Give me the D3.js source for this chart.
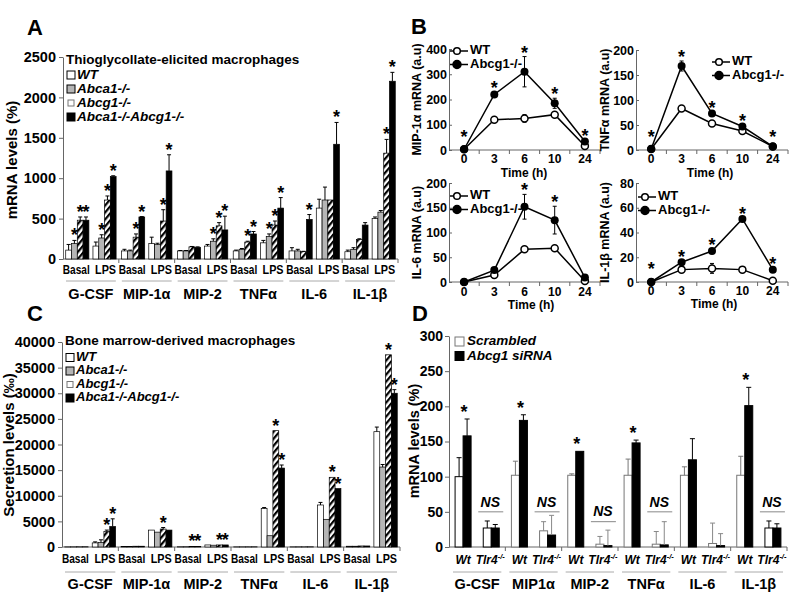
<!DOCTYPE html>
<html><head><meta charset="utf-8">
<script src="https://cdn.jsdelivr.net/npm/d3@7"></script>
<style>body{margin:0;background:#fff}svg{font-family:"Liberation Sans",Arial,sans-serif;font-weight:bold}</style>
</head><body><svg id="c" width="800" height="608"></svg>
<script>
// ---------------- DATA ----------------
const genotypes = ["WT","Abca1-/-","Abcg1-/-","Abca1-/-Abcg1-/-"];
const cytokines = ["G-CSF","MIP-1α","MIP-2","TNFα","IL-6","IL-1β"];
const conditions = ["Basal","LPS"];

// Panel A (rows: cytokines, cols: genotypes)
const aTicks = [0,500,1000,1500,2000,2500];
const aBasal = [[110,190,480,480],[100,100,270,520],[100,100,150,145],[100,120,210,310],[100,100,90,490],[90,120,240,420]];
const aBasalErr = [[70,40,40,40],[20,10,40,5],[5,5,5,5],[10,10,10,30],[40,20,5,60],[20,20,10,30]];
const aBasalStar = [[0,1,1,1],[0,0,1,1],[0,0,0,0],[0,0,1,1],[0,0,0,1],[0,0,0,0]];
const aLPS = [[160,260,730,1020],[190,180,470,1090],[160,220,410,360],[200,280,420,630],[630,730,730,1420],[500,580,1310,2200]];
const aLPSErr = [[50,40,50,10],[80,15,140,200],[20,30,40,170],[30,30,50,130],[110,160,0,270],[20,20,170,110]];
const aLPSStar = [[0,1,1,1],[0,0,1,1],[0,1,1,1],[0,1,1,1],[0,0,0,1],[0,0,1,1]];

// Panel B (time courses)
const times = ["0","3","6","10","24"];
const b1Ticks = [0,100,200,300,400];
const b1WT = [3,120,125,140,16], b1WTErr = [0,8,15,10,4];
const b1KO = [3,220,310,185,34], b1KOErr = [0,8,60,20,5];
const b1Star = [1,1,1,1,1];
const b2Ticks = [0,50,100,150,200];
const b2WT = [2,83,53,38,7], b2WTErr = [0,3,4,3,1];
const b2KO = [2,168,73,47,7], b2KOErr = [0,10,3,3,1];
const b2Star = [1,1,1,1,1];
const b3Ticks = [0,50,100,150,200];
const b3WT = [0,14,66,68,2], b3WTErr = [0,2,3,3,1];
const b3KO = [0,24,152,125,9], b3KOErr = [0,2,25,28,1];
const b3Star = [0,0,1,1,0];
const b4Ticks = [0,20,40,60,80];
const b4WT = [0,10,11,10,1], b4WTErr = [0,1,4,1,0];
const b4KO = [0,16,25,51,10], b4KOErr = [0,1,2,1,1];
const b4Star = [1,1,1,1,1];

// Panel C
const cTicks = [0,5000,10000,15000,20000,25000,30000,35000,40000];
const cBasal = [[30,30,40,40],[100,100,150,150],[50,50,100,100],[30,30,30,30],[30,30,30,30],[150,150,200,200]];
const cBasalErr = [[0,0,0,0],[0,0,0,0],[0,0,0,0],[0,0,0,0],[0,0,0,0],[0,0,0,0]];
const cBasalStar = [[0,0,0,0],[0,0,0,0],[0,0,1,1],[0,0,0,0],[0,0,0,0],[0,0,0,0]];
const cLPS = [[800,900,3000,4000],[3300,2900,3500,3300],[400,350,400,400],[7500,2200,22700,15400],[8200,5400,13600,11400],[22500,15600,37500,30000]];
const cLPSErr = [[200,500,300,1500],[0,0,300,0],[0,0,0,0],[200,0,0,600],[500,0,0,0],[900,500,0,700]];
const cLPSStar = [[0,0,1,1],[0,0,1,0],[0,0,1,1],[0,0,1,1],[0,0,1,1],[0,0,1,1]];

// Panel D
const dGroups = ["G-CSF","MIP1α","MIP-2","TNFα","IL-6","IL-1β"];
const dSub = ["Wt","Tlr4"];
const dTreat = ["Scrambled","Abcg1 siRNA"];
const dTicks = [0,50,100,150,200,250,300];
const dWt = [[100,158],[102,180],[102,136],[102,148],[102,124],[102,201]];
const dWtErr = [[27,24],[20,8],[2,0],[23,4],[12,30],[27,26]];
const dTlr4 = [[27,27],[23,17],[4,2],[4,3],[5,2],[27,27]];
const dTlr4Err = [[10,5],[13,28],[11,22],[18,33],[29,17],[10,6]];
const dStar = [1,1,1,1,0,1];
const dNS = [50,50,36,50,null,50];

// ---------------- DRAWING ----------------
const FONT = '"Liberation Sans", Arial, sans-serif';
const svg = d3.select("#c");
const defs = svg.append("defs");
const pat = defs.append("pattern").attr("id","hatch").attr("patternUnits","userSpaceOnUse")
  .attr("width",4.5).attr("height",4.5).attr("patternTransform","rotate(40)");
pat.append("rect").attr("width",4.5).attr("height",4.5).attr("fill","#fff");
pat.append("rect").attr("width",2.2).attr("height",4.5).attr("fill","#000");
const fills = ["#fff","#b5b5b5","url(#hatch)","#000"];
const AX = "#666";

function txt(g,x,y,s,fs,opt={}){
  const t = g.append("text").attr("x",x).attr("y",y).attr("font-size",fs)
    .attr("text-anchor",opt.anchor||"start").attr("dominant-baseline",opt.base||"middle")
    .attr("font-style",opt.italic?"italic":"normal").attr("fill","#000").text(s);
  if(opt.len) t.attr("textLength",opt.len).attr("lengthAdjust","spacingAndGlyphs");
  return t;
}
function yLabel(s,x,y,fs){
  svg.append("text").attr("transform",`translate(${x},${y}) rotate(-90)`).attr("text-anchor","middle")
    .attr("dominant-baseline","middle").attr("font-size",fs).text(s);
}
function styleAxis(a,fs){
  a.selectAll("path,line").attr("stroke",AX);
  a.selectAll("text").attr("font-size",fs).attr("font-weight","bold").attr("font-family",FONT).attr("fill","#000");
}
function star(g,x,y){
  g.append("text").attr("x",x).attr("y",y).attr("text-anchor","middle").attr("font-size",18).text("*");
}
function errBar(g,x,ya,yb,cap,col){
  g.append("line").attr("x1",x).attr("x2",x).attr("y1",ya).attr("y2",yb).attr("stroke",col||"#000").attr("stroke-width",1);
  g.append("line").attr("x1",x-cap).attr("x2",x+cap).attr("y1",yb).attr("y2",yb).attr("stroke",col||"#000").attr("stroke-width",1);
}

function groupedPanel(o){
  const g = svg.append("g");
  const x = d3.scaleBand().domain(cytokines).range([o.x0,o.x1]);
  const xc = d3.scaleBand().domain(conditions).range([0,x.bandwidth()]).paddingInner(0.15).paddingOuter(0.1);
  const xg = d3.scaleBand().domain(genotypes).range([0,xc.bandwidth()]);
  const y = d3.scaleLinear().domain([0,o.max]).range([o.y0,o.y1]);
  const ya = g.append("g").attr("transform",`translate(${o.x0},0)`)
    .call(d3.axisLeft(y).tickValues(o.ticks).tickSize(4).tickSizeOuter(0).tickPadding(3).tickFormat(d=>d));
  styleAxis(ya,o.tickFs);
  g.append("line").attr("x1",o.x0).attr("x2",o.x1).attr("y1",o.y0).attr("y2",o.y0).attr("stroke",AX);
  cytokines.forEach(c=>{
    const bx = x(c)+x.bandwidth();
    g.append("line").attr("x1",bx).attr("x2",bx).attr("y1",o.y0).attr("y2",o.y0+4).attr("stroke",AX);
  });
  const series=[o.basal,o.lps], errs=[o.basalErr,o.lpsErr], stars=[o.basalStar,o.lpsStar];
  cytokines.forEach((c,i)=>conditions.forEach((cd,j)=>genotypes.forEach((gt,k)=>{
    const v=series[j][i][k], e=errs[j][i][k];
    const bx=x(c)+xc(cd)+xg(gt), bw=xg.bandwidth();
    g.append("rect").attr("x",bx).attr("y",y(v)).attr("width",bw).attr("height",o.y0-y(v))
      .attr("fill",fills[k]).attr("stroke","#000").attr("stroke-width",0.7);
    if(e>0) errBar(g,bx+bw/2,y(v),y(v+e),2);
    if(stars[j][i][k]) star(g,bx+bw/2,y(v+e)+1);
  })));
  cytokines.forEach(c=>{
    conditions.forEach((cd,j)=>txt(g,x(c)+xc(cd)+xc.bandwidth()/2+(j===0?-1:1),o.yCond,cd,12,{anchor:"middle",len:j===0?27:21}));
    g.append("line").attr("x1",x(c)+3).attr("x2",x(c)+x.bandwidth()-3).attr("y1",o.yLine).attr("y2",o.yLine).attr("stroke","#aaa");
    txt(g,x(c)+x.bandwidth()/2,o.yName,c,14.5,{anchor:"middle"});
  });
  // title + legend
  txt(g,o.x0+3,o.titleY,o.title,13.5);
  genotypes.forEach((gt,k)=>{
    const ly=o.legY[k];
    const s = k===2?6:8;
    g.append("rect").attr("x",o.x0+4+(8-s)/2).attr("y",ly-s/2).attr("width",s).attr("height",s)
      .attr("fill",k===2?"#fff":fills[k]).attr("stroke",k===2?"#777":"#000").attr("stroke-width",1);
    txt(g,o.x0+14,ly,gt,o.legFs,{italic:true});
  });
}

function linePanel(o){
  const g = svg.append("g");
  const x = d3.scaleBand().domain(times).range([o.x0,o.x1]);
  const y = d3.scaleLinear().domain([0,o.max]).range([o.y0,o.y1]);
  const ya = g.append("g").attr("transform",`translate(${o.x0},0)`)
    .call(d3.axisLeft(y).tickValues(o.ticks).tickSize(-3).tickSizeOuter(0).tickPadding(2));
  styleAxis(ya,12.5);
  g.append("line").attr("x1",o.x0).attr("x2",o.x1).attr("y1",o.y0).attr("y2",o.y0).attr("stroke",AX);
  times.forEach(t=>{
    const bx=x(t)+x.bandwidth();
    g.append("line").attr("x1",bx).attr("x2",bx).attr("y1",o.y0).attr("y2",o.y0+4).attr("stroke",AX);
    txt(g,x(t)+x.bandwidth()/2,o.y0+o.tickDy,t,12,{anchor:"middle"});
  });
  txt(g,o.timeX,o.timeY,"Time (h)",12,{anchor:"middle"});
  const cx=t=>x(t)+x.bandwidth()/2;
  const ln=d3.line().x((d,i)=>cx(times[i])).y(d=>y(d));
  [[o.wt,o.wtErr],[o.ko,o.koErr]].forEach(([v,e])=>{
    v.forEach((d,i)=>{ if(e[i]>0){
      errBar(g,cx(times[i]),y(d),y(d+e[i]),2); errBar(g,cx(times[i]),y(d),y(Math.max(0,d-e[i])),2);
    }});
  });
  g.append("path").attr("d",ln(o.wt)).attr("fill","none").attr("stroke","#000").attr("stroke-width",1.5);
  g.append("path").attr("d",ln(o.ko)).attr("fill","none").attr("stroke","#000").attr("stroke-width",1.5);
  o.wt.forEach((d,i)=>g.append("circle").attr("cx",cx(times[i])).attr("cy",y(d)).attr("r",3.5).attr("fill","#fff").attr("stroke","#000").attr("stroke-width",1.5));
  o.ko.forEach((d,i)=>g.append("circle").attr("cx",cx(times[i])).attr("cy",y(d)).attr("r",4).attr("fill","#000"));
  o.star.forEach((s,i)=>{ if(s){
    const top=Math.min(y(o.ko[i]+o.koErr[i]),y(o.wt[i]+o.wtErr[i]));
    star(g,cx(times[i]),Math.min(top+2,o.y0-7));
  }});
  // legend
  [["WT",false],["Abcg1-/-",true]].forEach(([lab,fill],k)=>{
    const ly=o.legY+k*13.5;
    g.append("line").attr("x1",o.legX).attr("x2",o.legX+18).attr("y1",ly).attr("y2",ly).attr("stroke","#000").attr("stroke-width",1.5);
    g.append("circle").attr("cx",o.legX+7).attr("cy",ly).attr("r",fill?4:3.3).attr("fill",fill?"#000":"#fff").attr("stroke","#000").attr("stroke-width",1.5);
    txt(g,o.legX+20,ly,lab,13);
  });
  yLabel(o.ylab,o.ylabX,(o.y0+o.y1)/2,12.5);
}

function panelD(){
  const g = svg.append("g");
  const x0=449,x1=787,y0=547,y1=336;
  const x = d3.scaleBand().domain(dGroups).range([x0,x1]);
  const xs = d3.scaleBand().domain(dSub).range([0,x.bandwidth()]);
  const xt = d3.scaleBand().domain(dTreat).range([0,16]);
  const y = d3.scaleLinear().domain([0,300]).range([y0,y1]);
  const ya = g.append("g").attr("transform",`translate(${x0},0)`)
    .call(d3.axisLeft(y).tickValues(dTicks).tickSize(4).tickSizeOuter(0).tickPadding(2));
  styleAxis(ya,14);
  g.append("line").attr("x1",x0).attr("x2",x1).attr("y1",y0).attr("y2",y0).attr("stroke",AX);
  const vals=[dWt,dTlr4], errs=[dWtErr,dTlr4Err];
  dGroups.forEach((gr,i)=>{
    const bxEnd=x(gr)+x.bandwidth();
    g.append("line").attr("x1",bxEnd).attr("x2",bxEnd).attr("y1",y0).attr("y2",y0+4).attr("stroke",AX);
    dSub.forEach((sb,j)=>{
      const off=x(gr)+xs(sb)+(xs.bandwidth()-16)/2;
      dTreat.forEach((tr,k)=>{
        const v=vals[j][i][k], e=errs[j][i][k];
        const bx=off+xt(tr), bw=xt.bandwidth();
        const col = (k===0 && i>0 && !(i===5 && j===1)) ? "#777" : "#000";
        g.append("rect").attr("x",bx).attr("y",y(v)).attr("width",bw).attr("height",y0-y(v))
          .attr("fill",k===0?"#fff":"#000").attr("stroke",col).attr("stroke-width",1);
        if(e>0) errBar(g,bx+bw/2,y(v),y(v+e),2.5,(j===1&&i>0&&i<5)?"#888":col);
      });
      const cxs=x(gr)+xs(sb)+xs.bandwidth()/2;
      if(j===0) txt(g,cxs,y0+14,"Wt",12,{anchor:"middle",italic:true});
      else {
        const t=txt(g,cxs-1,y0+14,"Tlr4",12,{anchor:"middle",italic:true});
        t.append("tspan").attr("font-size",7.5).attr("dy",-4).text("-/-");
      }
    });
    if(dStar[i]){
      const xb=x(gr)+xs("Wt")+(xs.bandwidth()-16)/2+xt("Abcg1 siRNA")+xt.bandwidth()/2;
      star(g,xb-3,y(dWt[i][1]+dWtErr[i][1])-1);
    }
    if(dNS[i]!==null){
      const cxs=x(gr)+xs("Tlr4")+xs.bandwidth()/2;
      g.append("line").attr("x1",cxs-13).attr("x2",cxs+12).attr("y1",y(dNS[i])).attr("y2",y(dNS[i])).attr("stroke","#888");
      txt(g,cxs-1,y(dNS[i])-9,"NS",14,{anchor:"middle",italic:true});
    }
    g.append("line").attr("x1",x(gr)+4).attr("x2",x(gr)+x.bandwidth()-4).attr("y1",572).attr("y2",572).attr("stroke","#aaa");
    txt(g,x(gr)+x.bandwidth()/2,585,gr,14.5,{anchor:"middle"});
  });
  // legend
  dTreat.forEach((tr,k)=>{
    const ly=341.5+k*14.5;
    g.append("rect").attr("x",455).attr("y",ly-4.5).attr("width",9).attr("height",9)
      .attr("fill",k===0?"#fff":"#000").attr("stroke",k===0?"#777":"#000");
    txt(g,467,ly,tr,13.5,{italic:true});
  });
  yLabel("mRNA levels (%)",415,441,14.5);
}

// Panel A
groupedPanel({x0:63,x1:398,y0:259,y1:57,max:2500,ticks:aTicks,tickFs:14.5,
  basal:aBasal,basalErr:aBasalErr,basalStar:aBasalStar,lps:aLPS,lpsErr:aLPSErr,lpsStar:aLPSStar,
  yCond:271,yLine:281,yName:295,title:"Thioglycollate-elicited macrophages",titleY:60,legY:[75,89,103,117],legFs:13.5});
yLabel("mRNA levels (%)",13,160,15);

// Panel C
groupedPanel({x0:62,x1:400,y0:547,y1:342,max:40000,ticks:cTicks,tickFs:14.5,
  basal:cBasal,basalErr:cBasalErr,basalStar:cBasalStar,lps:cLPS,lpsErr:cLPSErr,lpsStar:cLPSStar,
  yCond:560,yLine:572,yName:585,title:"Bone marrow-derived macrophages",titleY:341,legY:[357.5,371,384.5,398],legFs:13});
yLabel("Secretion levels (‰)",10,445,15);

// Panel B
linePanel({x0:449,x1:600,y0:150,y1:49,max:400,ticks:b1Ticks,wt:b1WT,wtErr:b1WTErr,ko:b1KO,koErr:b1KOErr,star:b1Star,
  tickDy:9.5,timeX:524,timeY:173.5,legX:450,legY:51,ylab:"MIP-1α mRNA (a.u)",ylabX:418});
linePanel({x0:636,x1:788,y0:150,y1:50,max:200,ticks:b2Ticks,wt:b2WT,wtErr:b2WTErr,ko:b2KO,koErr:b2KOErr,star:b2Star,
  tickDy:9.5,timeX:710,timeY:173.5,legX:712,legY:62,ylab:"TNFα mRNA (a.u)",ylabX:606});
linePanel({x0:449,x1:600,y0:282,y1:183,max:200,ticks:b3Ticks,wt:b3WT,wtErr:b3WTErr,ko:b3KO,koErr:b3KOErr,star:b3Star,
  tickDy:10.5,timeX:531,timeY:306,legX:450,legY:196,ylab:"IL-6 mRNA (a.u)",ylabX:418});
linePanel({x0:636,x1:788,y0:282,y1:183,max:80,ticks:b4Ticks,wt:b4WT,wtErr:b4WTErr,ko:b4KO,koErr:b4KOErr,star:b4Star,
  tickDy:10,timeX:714,timeY:305,legX:638,legY:197,ylab:"IL-1β mRNA (a.u)",ylabX:606});

// Panel D
panelD();

// Panel letters
[["A",27,29],["B",411,28],["C",27,315],["D",412,315]].forEach(([l,x,y])=>txt(svg,x,y,l,22));
</script></body></html>
